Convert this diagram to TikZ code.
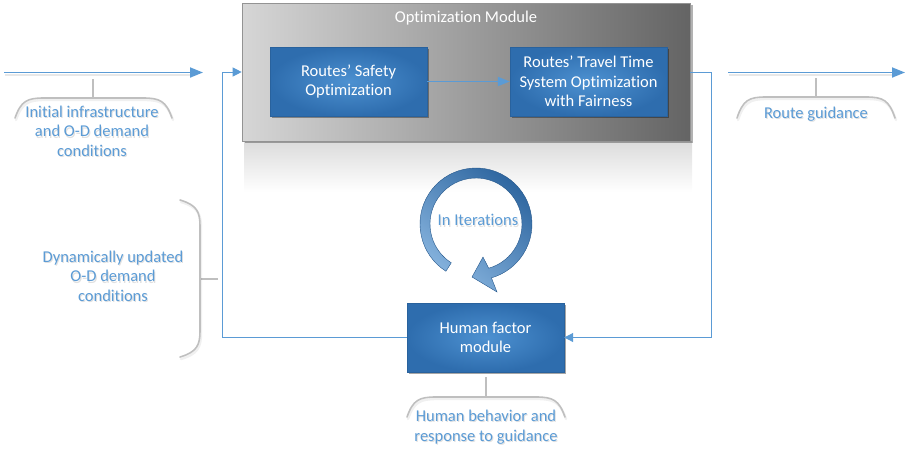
\documentclass[tikz,border=0pt]{standalone}
\usepackage{fontspec}
\setmainfont{Carlito}[Ligatures={NoCommon}]
\usetikzlibrary{arrows.meta,shadows,calc}
\definecolor{boxblue}{HTML}{2E6DAE}
\definecolor{boxblueL}{HTML}{4D91D1}
\definecolor{linkblue}{HTML}{5B9BD5}
\definecolor{calloutgray}{HTML}{BFBFBF}
\definecolor{labelblue}{HTML}{5B9BD5}
\definecolor{modL}{HTML}{D6D6D6}
\definecolor{modM}{HTML}{ADADAD}
\definecolor{modR}{HTML}{646464}
\tikzset{
  txt/.style={font=\fontsize{16.5}{19.5}\selectfont, align=center},
  bluebox/.style={txt, text=white, minimum width=157pt, minimum height=69pt,
    inner color=boxblueL, outer color=boxblue, draw=boxblue!90!black, line width=0.4pt,
    drop shadow={shadow xshift=2pt, shadow yshift=-2pt, fill=black, opacity=0.35}},
  modbox/.style={minimum width=448pt, minimum height=138pt, draw=gray!85, line width=0.6pt,
    left color=modL, middle color=modM, right color=modR,
    drop shadow={shadow xshift=3pt, shadow yshift=-2pt, fill=black, opacity=0.3}},
  label/.style={txt, text=labelblue},
  labelshadow/.style={txt, text=black, opacity=0.12},
  mainflow/.style={draw=linkblue, line width=1.8pt, -{Triangle[length=13pt,width=10pt]}},
  flowshadow/.style={draw=gray!18, line width=2.6pt},
  loopline/.style={draw=linkblue, line width=1pt},
  looparrow/.style={loopline, -{Triangle[length=9pt,width=9pt]}},
  callout/.style={draw=calloutgray, line width=1.6pt, line cap=round},
  calloutshadow/.style={draw=black, opacity=0.06, line width=2.4pt, line cap=round},
  stub/.style={draw=calloutgray, line width=1.4pt},
}
% a label in light blue with a faint shadow copy beneath it
\newcommand\shadedlabel[3]{%
  \node[labelshadow] (#1shadow) at ($(#2)+(1,-1.4)$) {#3};
  \node[label] (#1) at (#2) {#3};}
\begin{document}
\begin{tikzpicture}[x=1pt,y=1pt]
\useasboundingbox (0,0) rectangle (911,-451);

% reflection under the optimization module
\shade[top color=gray!28, bottom color=white] (244,-141) rectangle (692,-192);

% optimization module with its two stages
\node[modbox] (opt) at (466,-72) {};
\node[txt, text=white] (opttitle) at (466,-18) {Optimization Module};
\node[bluebox] (safety) at (348.5,-81.5) {Routes’ Safety\\Optimization};
\node[bluebox] (travel) at (588.5,-81.5) {Routes’ Travel Time\\System Optimization\\with Fairness};
\draw[draw=linkblue, line width=1.8pt, -{Triangle[length=12pt,width=9pt]}] (safety.east) -- (travel.west);

% human factor module
\node[bluebox] (human) at (485.5,-337.5) {Human factor\\module};

% external input and output
\coordinate (inL) at (4,-72.5);
\coordinate (inR) at (203,-72.5);
\coordinate (outL) at (728,-72.5);
\coordinate (outR) at (905,-72.5);
\draw[flowshadow] ($(inL)+(1,-2.5)$) -- ($(inR)+(-10,-2.5)$);
\draw[flowshadow] ($(outL)+(1,-2.5)$) -- ($(outR)+(-10,-2.5)$);
\draw[mainflow] (inL) -- (inR);
\draw[mainflow] (outL) -- (outR);

% feedback loop between the modules
\coordinate (fbL) at (222.5,-337.5);
\coordinate (fbR) at (711.5,-72);
\draw[looparrow] (human.west) -- (fbL) |- (opt.west);
\draw[looparrow] (opt.east) -- (fbR) |- (human.east);

% iteration symbol
\coordinate (loopc) at (476,-224);
\begin{scope}[shift={(loopc)}]
  \shade[draw=boxblue!80!black, line width=0.4pt, top color=boxblue!90!black, bottom color=boxblueL!65!white, shading angle=-40]
    (237.5:56) arc[start angle=237.5, end angle=-74, radius=56]
    -- (21,-68) -- (-4,-53) -- (7,-33)
    -- (-74:46) arc[start angle=-74, end angle=237.5, radius=46] -- cycle;
\end{scope}
\coordinate (iterpos) at (478,-220);
\shadedlabel{iter}{iterpos}{In Iterations}

% callout: initial conditions
\coordinate (c1top) at (93,-79);
\coordinate (c1mid) at (93,-98);
\draw[stub] (c1top) -- (c1mid);
\draw[calloutshadow] (16,-120) .. controls (22,-103) and (28,-100) .. (45,-100) -- (144,-100) .. controls (161,-100) and (167,-103) .. (173,-120);
\draw[callout] (15,-118) .. controls (21,-101) and (27,-98) .. (44,-98) -- (143,-98) .. controls (160,-98) and (166,-101) .. (172,-118);
\coordinate (c1pos) at (92,-131);
\shadedlabel{c1txt}{c1pos}{Initial infrastructure\\and O-D demand\\conditions}

% callout: route guidance
\coordinate (c2top) at (816,-78);
\coordinate (c2mid) at (816,-97);
\draw[stub] (c2top) -- (c2mid);
\draw[calloutshadow] (738,-120) .. controls (744,-102) and (750,-99) .. (767,-99) -- (867,-99) .. controls (884,-99) and (890,-102) .. (896,-120);
\draw[callout] (737,-118) .. controls (743,-100) and (749,-97) .. (766,-97) -- (866,-97) .. controls (883,-97) and (889,-100) .. (895,-118);
\coordinate (c2pos) at (816,-114);
\shadedlabel{c2txt}{c2pos}{Route guidance}

% callout: dynamically updated demand
\coordinate (c3in) at (218,-279);
\coordinate (c3mid) at (200,-279);
\draw[stub] (c3in) -- (c3mid);
\draw[calloutshadow] (181,-202) .. controls (198,-207) and (201,-214) .. (201,-228) -- (201,-333) .. controls (201,-347) and (198,-354) .. (181,-359);
\draw[callout] (180,-200) .. controls (197,-205) and (200,-212) .. (200,-226) -- (200,-331) .. controls (200,-345) and (197,-352) .. (180,-357);
\coordinate (c3pos) at (113,-276);
\shadedlabel{c3txt}{c3pos}{Dynamically updated\\O-D demand\\conditions}

% callout: human behaviour
\coordinate (c4top) at (486,-377);
\coordinate (c4mid) at (486,-397);
\draw[stub] (c4top) -- (c4mid);
\draw[calloutshadow] (408,-419) .. controls (414,-402) and (420,-399) .. (437,-399) -- (537,-399) .. controls (554,-399) and (560,-402) .. (566,-419);
\draw[callout] (407,-417) .. controls (413,-400) and (419,-397) .. (436,-397) -- (536,-397) .. controls (553,-397) and (559,-400) .. (565,-417);
\coordinate (c4pos) at (486,-427);
\shadedlabel{c4txt}{c4pos}{Human behavior and\\response to guidance}
\end{tikzpicture}
\end{document}
